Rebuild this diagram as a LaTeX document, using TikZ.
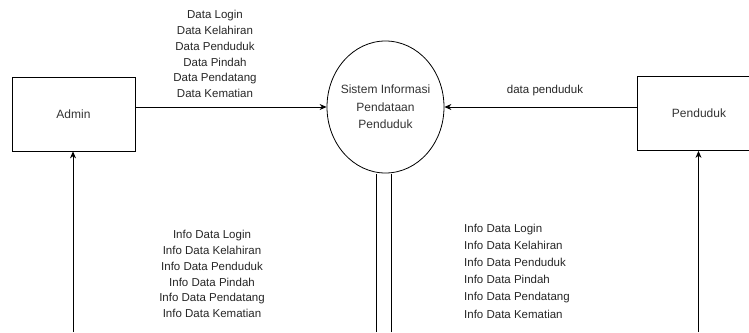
\documentclass[tikz,border=0pt]{standalone}
\usepackage{fontspec}
\setmainfont{Liberation Sans}
\usepackage{tikz}
\usetikzlibrary{shapes.geometric,arrows.meta,positioning}

\begin{document}
\begin{tikzpicture}[x=1pt,y=-1pt]
			\tikzstyle{Entity}	= [rectangle, draw, line width=0.8pt, minimum width=123pt, minimum height=74pt, inner sep=0pt, font=\fontsize{12}{14}\selectfont, text=black!80]
			\tikzstyle{Process}	= [ellipse, draw, line width=0.8pt, fill=white, minimum width=117pt, minimum height=132pt, inner sep=0pt]
			\tikzstyle{Label}	= [inner sep=0pt, text=black!85, font=\fontsize{11.5}{15.8}\selectfont]
			\tikzstyle{Flow}	= [line width=0.8pt, -{Stealth[length=7pt,width=6pt]}]
			\tikzstyle{Line}	= [line width=0.8pt]

			\useasboundingbox (0,0) rectangle (749,332);
			\clip (0,0) rectangle (749,332);

			\node (admin) at (73.5,114) [Entity] {Admin};
			\node (pend) at (699,113.5) [Entity] {Penduduk};
			\node (sys) at (385.5,107) [Process] {};
			\node (sysText) at (sys.center) [align=center, inner sep=0pt, text=black!80, font=\fontsize{12}{17.5}\selectfont] {Sistem Informasi\\Pendataan\\Penduduk};

			\coordinate (adminBot) at (73,332);
			\coordinate (pendBot) at (698.5,332);
			\coordinate (sysBotL) at (376,332);
			\coordinate (sysBotR) at (391,332);

			\draw [Flow] (admin.east |- sys.west) to (sys.west);
			\draw [Flow] (pend.west |- sys.east) to (sys.east);
			\draw [Flow] (adminBot) to (adminBot |- admin.south);
			\draw [Flow] (pendBot) to (pendBot |- pend.south);
			\draw [Line, shorten >=1pt] (sysBotL) to (sysBotL |- sys.south);
			\draw [Line, shorten >=1pt] (sysBotR) to (sysBotR |- sys.south);

			\node (dataIn) at (215,54) [Label, align=center] {Data Login\\Data Kelahiran\\Data Penduduk\\Data Pindah\\Data Pendatang\\Data Kematian};
			\node (dataPend) at (545,91) [Label] {data penduduk};
			\node (infoAdmin) at (212,274) [Label, align=center] {Info Data Login\\Info Data Kelahiran\\Info Data Penduduk\\Info Data Pindah\\Info Data Pendatang\\Info Data Kematian};
			\node (infoPend) at (464,271) [Label, anchor=west, align=left, font=\fontsize{11.5}{17.2}\selectfont] {Info Data Login\\Info Data Kelahiran\\Info Data Penduduk\\Info Data Pindah\\Info Data Pendatang\\Info Data Kematian};
		\end{tikzpicture}
\end{document}
